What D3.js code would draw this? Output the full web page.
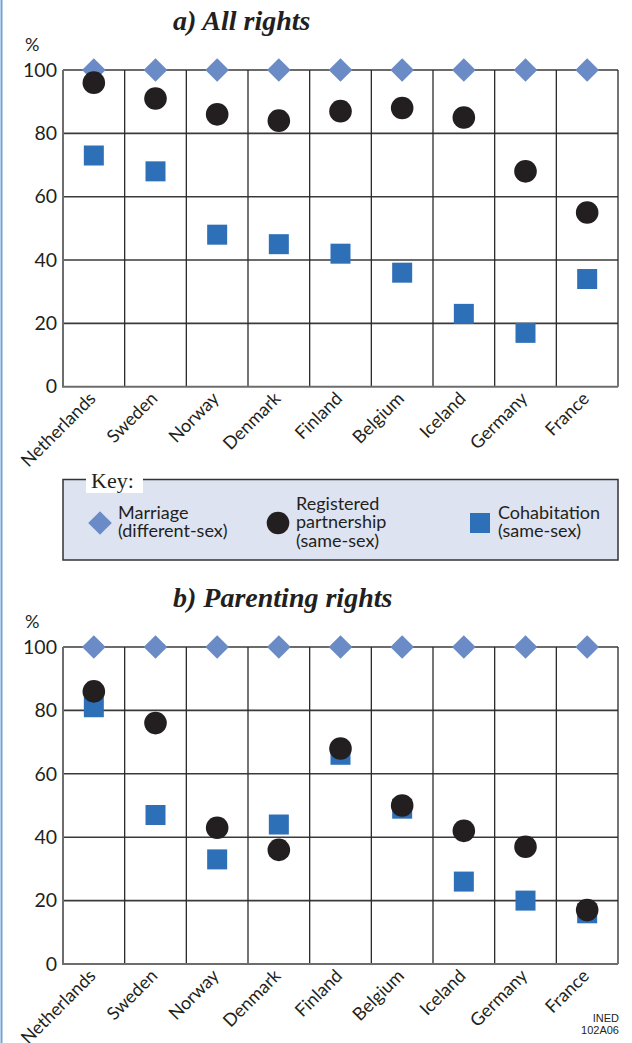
<!DOCTYPE html>
<html>
<head>
<meta charset="utf-8">
<script src="https://cdn.jsdelivr.net/npm/d3@7"></script>
<style>
  body { margin: 0; background: #fff; }
  svg { display: block; }
  .tick text { font-family: Lato, "Open Sans", sans-serif; fill: #231f20; }
</style>
</head>
<body>
<div id="graphicContainer"></div>
<script>
// values (percent of rights)
var countries = ["Netherlands", "Sweden", "Norway", "Denmark", "Finland", "Belgium", "Iceland", "Germany", "France"];
var yTicks = [0, 20, 40, 60, 80, 100];

var allMarriage = [100, 100, 100, 100, 100, 100, 100, 100, 100];
var allPartnership = [96, 91, 86, 84, 87, 88, 85, 68, 55];
var allCohabitation = [73, 68, 48, 45, 42, 36, 23, 17, 34];

var parMarriage = [100, 100, 100, 100, 100, 100, 100, 100, 100];
var parPartnership = [86, 76, 43, 36, 68, 50, 42, 37, 17];
var parCohabitation = [81, 47, 33, 44, 66, 49, 26, 20, 16];

var legendItems = [
	{shape: "diamond", lines: ["Marriage", "(different-sex)"]},
	{shape: "circle", lines: ["Registered", "partnership", "(same-sex)"]},
	{shape: "square", lines: ["Cohabitation", "(same-sex)"]}
];

var width = 632, height = 1043;
var colDiamond = "#6a8bc6", colCircle = "#231f20", colSquare = "#2e70b8";

var svg = d3.select("#graphicContainer").append("svg")
	.attr("width", width)
	.attr("height", height);

// thin blue page rule on the left
svg.append("line")
	.attr("x1", 1.5).attr("x2", 1.5).attr("y1", 0).attr("y2", height)
	.attr("stroke", "#6fa3d8").attr("stroke-width", 2);

var x = d3.scaleBand().domain(countries).range([63, 618]).padding(0);

function drawMarker(sel, shape) {
	if (shape == "diamond") {
		sel.append("path").attr("d", "M0,-11.8L11.8,0L0,11.8L-11.8,0Z").attr("fill", colDiamond);
	} else if (shape == "circle") {
		sel.append("circle").attr("r", 11.3).attr("fill", colCircle);
	} else {
		sel.append("rect").attr("x", -10).attr("y", -10).attr("width", 20).attr("height", 20).attr("fill", colSquare);
	}
}

function makePanel(title, titleY, top, bottom, marriage, partnership, cohabitation) {

	var y = d3.scaleLinear().domain([0, 100]).range([bottom, top]);
	var g = svg.append("g");

	g.append("text")
		.attr("x", 173).attr("y", titleY)
		.style("font-family", "'Liberation Serif', serif")
		.style("font-weight", "bold").style("font-style", "italic")
		.style("font-size", "28px").attr("fill", "#231f20")
		.text(title);

	g.append("text")
		.attr("x", 25).attr("y", top - 19)
		.style("font-family", "Lato, sans-serif").style("font-size", "18px")
		.attr("fill", "#231f20")
		.text("%");

	// horizontal grid
	g.append("g").selectAll("line")
		.data(yTicks.filter(d => d > 0))
		.enter().append("line")
		.attr("x1", x.range()[0]).attr("x2", x.range()[1])
		.attr("y1", d => y(d)).attr("y2", d => y(d))
		.attr("stroke", "#3a3a3a").attr("stroke-width", 1.6);

	// column dividers
	var edges = countries.map(c => x(c)).concat([x.range()[1]]);
	g.append("g").selectAll("line")
		.data(edges.slice(1))
		.enter().append("line")
		.attr("x1", d => d).attr("x2", d => d)
		.attr("y1", y(100)).attr("y2", y(0))
		.attr("stroke", "#2a2a2a").attr("stroke-width", 1.3);

	// left + bottom frame
	g.append("path")
		.attr("d", "M" + x.range()[0] + "," + y(100) + "V" + y(0) + "H" + x.range()[1])
		.attr("fill", "none").attr("stroke", "#6d6d6d").attr("stroke-width", 2);

	var yAxis = g.append("g")
		.attr("transform", "translate(" + x.range()[0] + ",0)")
		.call(d3.axisLeft(y).tickValues(yTicks).tickSize(0).tickPadding(6));
	yAxis.select(".domain").remove();
	yAxis.selectAll("text").style("font-size", "19.5px");

	var xAxis = g.append("g")
		.attr("transform", "translate(0," + y(0) + ")")
		.call(d3.axisBottom(x).tickSize(0));
	xAxis.select(".domain").remove();
	xAxis.selectAll("text")
		.style("font-size", "18px")
		.attr("text-anchor", "end")
		.attr("dy", null).attr("y", 0)
		.attr("transform", "translate(3,13) rotate(-45)");

	var rows = countries.map((c, i) => ({
		country: c, marriage: marriage[i], partnership: partnership[i], cohabitation: cohabitation[i]
	}));

	var cx = d => x(d.country) + x.bandwidth() / 2;

	g.append("g").selectAll("g").data(rows).enter().append("g")
		.attr("transform", d => "translate(" + cx(d) + "," + y(d.marriage) + ")")
		.call(sel => drawMarker(sel, "diamond"));

	g.append("g").selectAll("g").data(rows).enter().append("g")
		.attr("transform", d => "translate(" + cx(d) + "," + y(d.cohabitation) + ")")
		.call(sel => drawMarker(sel, "square"));

	g.append("g").selectAll("g").data(rows).enter().append("g")
		.attr("transform", d => "translate(" + cx(d) + "," + y(d.partnership) + ")")
		.call(sel => drawMarker(sel, "circle"));
}

makePanel("a) All rights", 30, 70, 386.7, allMarriage, allPartnership, allCohabitation);
makePanel("b) Parenting rights", 607, 647, 964, parMarriage, parPartnership, parCohabitation);

// key box
var key = svg.append("g");
key.append("rect")
	.attr("x", 63).attr("y", 479.5).attr("width", 555).attr("height", 80.5)
	.attr("fill", "#dee3f2").attr("stroke", "#333").attr("stroke-width", 1.5);
key.append("rect")
	.attr("x", 86).attr("y", 469).attr("width", 57).attr("height", 24)
	.attr("fill", "#fff");
key.append("text")
	.attr("x", 91).attr("y", 488)
	.style("font-family", "'Liberation Serif', serif").style("font-size", "22px")
	.attr("fill", "#231f20")
	.text("Key:");

var keyX = [100, 278, 480];
legendItems.forEach((item, i) => {
	var it = key.append("g").attr("transform", "translate(" + keyX[i] + ",523)");
	drawMarker(it, item.shape);
	var t = it.append("text")
		.attr("x", 18)
		.style("font-family", "Lato, sans-serif").style("font-size", "18px")
		.attr("fill", "#231f20");
	var y0 = -(item.lines.length - 1) * 18.5 / 2 + 5;
	item.lines.forEach((l, j) => {
		t.append("tspan").attr("x", 18).attr("y", y0 + j * 18.5).text(l);
	});
});

// source code
var src = svg.append("text")
	.attr("text-anchor", "end")
	.style("font-family", "'Liberation Sans Narrow', 'Liberation Sans', sans-serif")
	.style("font-size", "11px").attr("fill", "#231f20");
src.append("tspan").attr("x", 619).attr("y", 1022).text("INED");
src.append("tspan").attr("x", 619).attr("y", 1034).text("102A06");
</script>
</body>
</html>
